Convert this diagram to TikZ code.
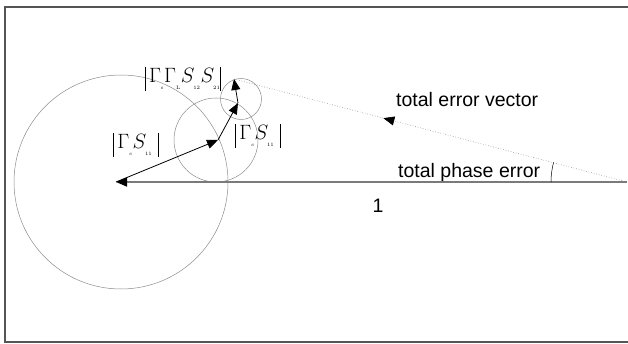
\documentclass[tikz,border=0pt]{standalone}
\usepackage{fontspec}
\usepackage{amsmath}
\usepackage{tikz}
\usetikzlibrary{arrows.meta, calc, decorations.markings}
\newfontfamily\labelsans{Liberation Sans}
\definecolor{framegray}{HTML}{555555}
\definecolor{circlegray}{HTML}{8C8C8C}
\definecolor{axisgray}{HTML}{7A7A7A}
\newcommand{\tinysub}[1]{_{\raisebox{-3pt}{\fontsize{5}{6}\selectfont #1}}}
\newcommand{\tallbar}{\vrule width 0.6pt height 16pt depth 8pt}

\begin{document}
\begin{tikzpicture}[x=1pt, y=-1pt,
    circ/.style={circle, draw=circlegray, line width=0.5pt, inner sep=0pt},
    vec/.style={-{Triangle[length=11pt, width=9pt, color=black]}, line width=0.8pt, black},
    lbl/.style={font=\fontsize{19.5}{20}\labelsans, inner sep=0pt},
    mlbl/.style={font=\fontsize{21}{22}\selectfont, inner sep=0pt}
]
    \useasboundingbox (0,0) rectangle (628,344);
    % frame
    \draw[framegray, line width=1.5pt] (640,7) -- (5,7) -- (5,342) -- (640,342);

    % key points
    \coordinate (O) at (116,182);
    \coordinate (M) at (218,140);
    \coordinate (T) at (238,103);
    \coordinate (E) at (234,79);
    \coordinate (R) at (627,182);

    % circles
    \node[circ, minimum size=214pt] (bigc) at (121,182) {};
    \node[circ, minimum size=84pt] (midc) at (216,140) {};
    \node[circ, minimum size=41pt] (smallc) at (241,99) {};

    % vectors
    \draw[vec, axisgray, line width=1.6pt] (R) -- (O);
    \foreach \a/\b in {O/M, M/T, T/E}
        \draw[vec] (\a) -- (\b);

    % total error vector
    \draw[circlegray, dotted, line width=0.6pt, postaction={decorate},
        decoration={markings, mark=at position 0.62 with {\arrow[black]{Triangle[length=11pt, width=9pt]}}}]
        (R) -- (E);
    \draw[black, line width=0.5pt] ($(R)+(180:76)$) arc[start angle=180, end angle=195, radius=76];

    % labels
    \node[lbl, anchor=base west] (errlbl) at (396,107) {total error vector};
    \node[lbl, anchor=base west] (phaselbl) at (398,178) {total phase error};
    \node[lbl, anchor=base] (onelbl) at (378,213) {1};
    \node[mlbl] (gs1) at (136,145) {$\tallbar\,\Gamma\tinysub{s}S\tinysub{11}\;\tallbar$};
    \node[mlbl] (gs2) at (258,136) {$\tallbar\,\Gamma\tinysub{s}S\tinysub{11}\;\tallbar$};
    \node[mlbl] (gg) at (183,79) {$\tallbar\,\Gamma\tinysub{s}\Gamma\tinysub{L}S\tinysub{12}S\tinysub{21}\tallbar$};
\end{tikzpicture}
\end{document}
